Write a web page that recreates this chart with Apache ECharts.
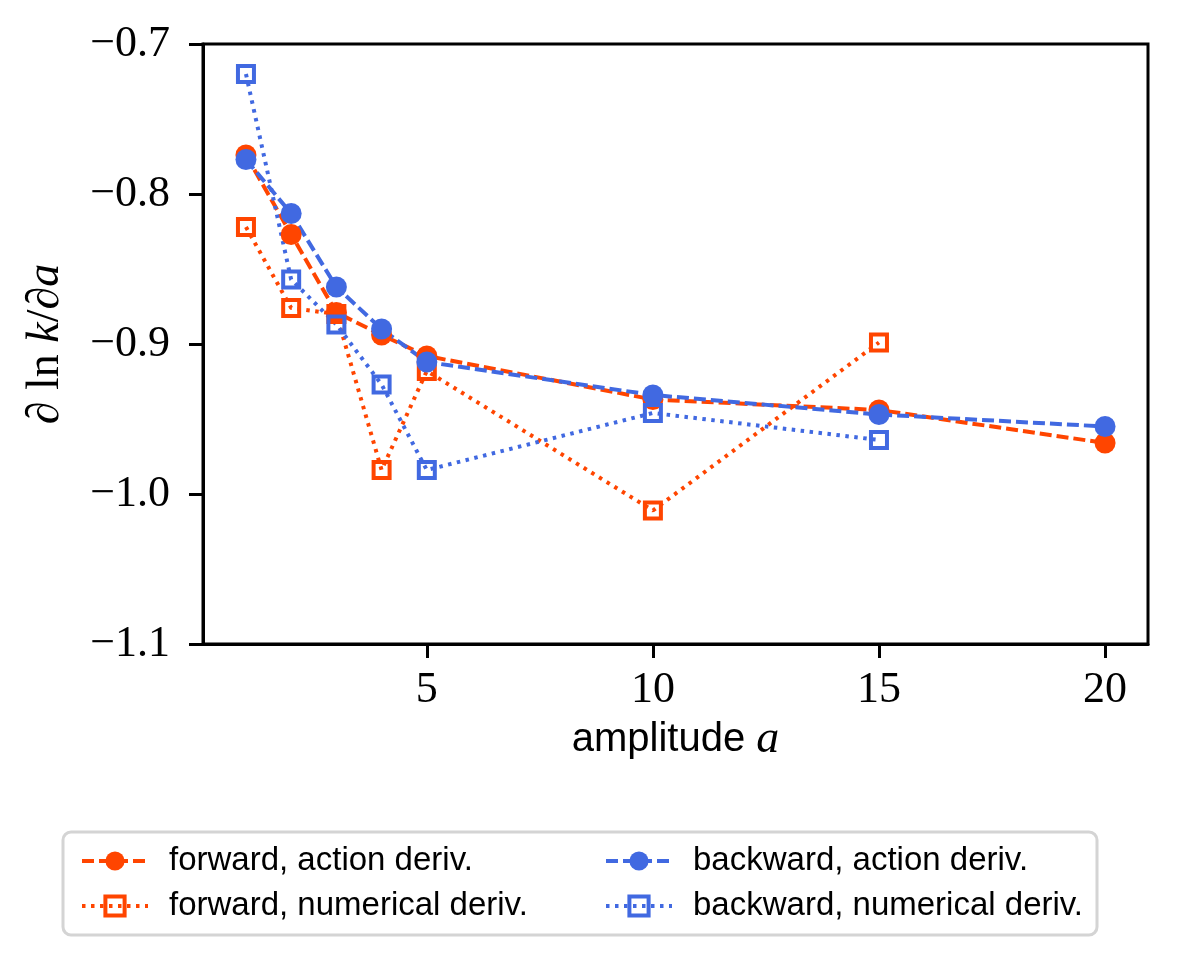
<!DOCTYPE html>
<html>
<head>
<meta charset="utf-8">
<script src="https://cdn.jsdelivr.net/npm/echarts@6/dist/echarts.min.js"></script>
<style>
  html, body { margin: 0; padding: 0; background: #fff; }
  #chart { width: 1177px; height: 965px; }
</style>
</head>
<body>
<div id="chart"></div>
<script>
// amplitudes
var amp = [1, 2, 3, 4, 5, 10, 15, 20];
var ampNum = [1, 2, 3, 4, 5, 10, 15];

// d ln k / d a
var fwdAction = [-0.774, -0.827, -0.879, -0.894, -0.908, -0.937, -0.944, -0.966];
var fwdNumerical = [-0.822, -0.876, -0.880, -0.984, -0.918, -1.011, -0.899];
var bwdAction = [-0.777, -0.813, -0.862, -0.890, -0.912, -0.934, -0.947, -0.955];
var bwdNumerical = [-0.720, -0.857, -0.887, -0.927, -0.984, -0.946, -0.964];

var xTicks = [5, 10, 15, 20];

var red = '#FF4500';
var blue = '#4169E1';

function pairs(xs, ys) {
    var out = [];
    for (var i = 0; i < ys.length; i++) {
        out.push([xs[i], ys[i]]);
    }
    return out;
}

function actionSeries(name, xs, ys, colore) {
    return {
        name: name,
        type: 'line',
        data: pairs(xs, ys),
        symbol: 'circle',
        symbolSize: 21,
        itemStyle: { color: colore },
        lineStyle: { color: colore, width: 4, type: [12, 5] }
    };
}

function numericalSeries(name, xs, ys, colore) {
    return {
        name: name,
        type: 'line',
        data: pairs(xs, ys),
        symbol: 'rect',
        symbolSize: 16,
        itemStyle: { color: 'rgba(255,255,255,0)', borderColor: colore, borderWidth: 4 },
        lineStyle: { color: colore, width: 4, type: [3.5, 5.5] }
    };
}

var serif = 'Liberation Serif';
var sans = 'Liberation Sans';

var legendText = {
    fontFamily: sans,
    fontSize: 33,
    color: '#000',
    lineHeight: 36,
    padding: [0, 0, 0, 16]
};

function legendBlock(left, names) {
    return {
        orient: 'vertical',
        left: left,
        top: 838,
        itemWidth: 66,
        itemHeight: 24,
        itemGap: 9,
        textStyle: legendText,
        lineStyle: { width: 4 },
        itemStyle: { borderWidth: 4 },
        data: names
    };
}

var option = {
    animation: false,
    backgroundColor: '#fff',
    grid: {
        left: 203,
        right: 29,
        top: 44,
        bottom: 321,
        show: true,
        borderColor: '#000',
        borderWidth: 3
    },
    xAxis: {
        type: 'value',
        min: 0.05,
        max: 20.95,
        name: '{t|amplitude }{i|a}',
        nameLocation: 'middle',
        nameGap: 60,
        nameTextStyle: {
            rich: {
                t: { fontFamily: sans, fontSize: 40, color: '#000' },
                i: { fontFamily: serif, fontStyle: 'italic', fontSize: 46, color: '#000' }
            }
        },
        axisLine: { show: true, onZero: false, lineStyle: { color: '#000', width: 3 } },
        axisTick: { show: true, length: 14, customValues: xTicks, lineStyle: { color: '#000', width: 3 } },
        axisLabel: {
            customValues: xTicks,
            margin: 24,
            fontFamily: serif,
            fontSize: 44,
            color: '#000'
        },
        splitLine: { show: false }
    },
    yAxis: {
        type: 'value',
        min: -1.1,
        max: -0.7,
        interval: 0.1,
        name: '{t|\u2202 ln }{i|k}{t|/\u2202}{i|a}',
        nameLocation: 'middle',
        nameGap: 134,
        nameTextStyle: {
            rich: {
                t: { fontFamily: serif, fontSize: 46, color: '#000' },
                i: { fontFamily: serif, fontStyle: 'italic', fontSize: 46, color: '#000' }
            }
        },
        axisLine: { show: true, onZero: false, lineStyle: { color: '#000', width: 3 } },
        axisTick: { show: true, length: 14, lineStyle: { color: '#000', width: 3 } },
        axisLabel: {
            margin: 33,
            fontFamily: serif,
            fontSize: 44,
            color: '#000',
            formatter: function (v) {
                return v.toFixed(1).replace('-', '\u2212');
            }
        },
        splitLine: { show: false }
    },
    legend: [
        legendBlock(75, ['forward, action deriv.', 'forward, numerical deriv.']),
        legendBlock(599, ['backward, action deriv.', 'backward, numerical deriv.'])
    ],
    graphic: [
        {
            type: 'rect',
            z: -1,
            shape: { x: 63, y: 832, width: 1034, height: 103, r: 8 },
            style: { fill: '#fff', stroke: '#d4d4d4', lineWidth: 3 }
        }
    ],
    series: [
        actionSeries('forward, action deriv.', amp, fwdAction, red),
        numericalSeries('forward, numerical deriv.', ampNum, fwdNumerical, red),
        actionSeries('backward, action deriv.', amp, bwdAction, blue),
        numericalSeries('backward, numerical deriv.', ampNum, bwdNumerical, blue)
    ]
};

var chartDom = document.getElementById('chart');
var chart = echarts.init(chartDom);
chart.setOption(option, true);
</script>
</body>
</html>
